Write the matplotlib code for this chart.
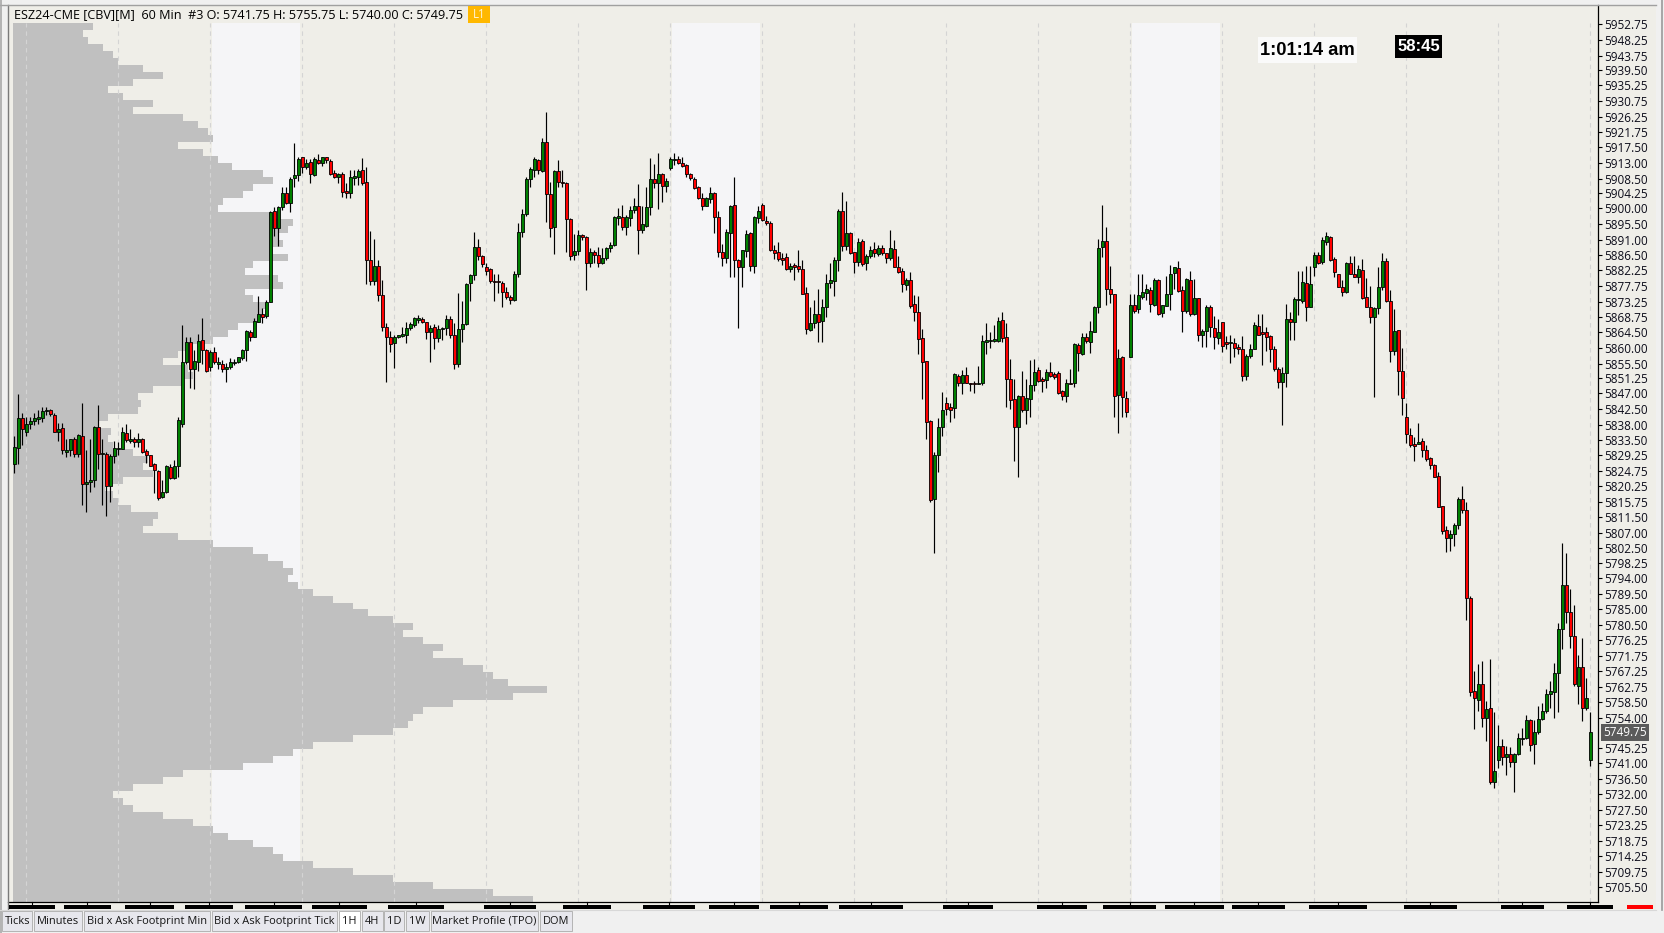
import numpy as np
import matplotlib
matplotlib.use("Agg")
import matplotlib.pyplot as plt
from matplotlib.patches import Rectangle
from matplotlib.lines import Line2D
import matplotlib.transforms as mtrans

# ------------------------------------------------------------------ data
header_text = "ESZ24-CME [CBV][M]  60 Min  #3 O: 5741.75 H: 5755.75 L: 5740.00 C: 5749.75"
clock_text = "1:01:14 am"
timer_text = "58:45"
last_price = 5749.75
tab_labels = ["Ticks", "Minutes", "Bid x Ask Footprint Min", "Bid x Ask Footprint Tick",
              "1H", "4H", "1D", "1W", "Market Profile (TPO)", "DOM"]
selected_tab = "1H"

price_ticks = [5952.75, 5948.25, 5943.75, 5939.50, 5935.25, 5930.75, 5926.25, 5921.75,
               5917.50, 5913.00, 5908.50, 5904.25, 5900.00, 5895.50, 5891.00, 5886.50,
               5882.25, 5877.75, 5873.25, 5868.75, 5864.50, 5860.00, 5855.50, 5851.25,
               5847.00, 5842.50, 5838.00, 5833.50, 5829.25, 5824.75, 5820.25, 5815.75,
               5811.50, 5807.00, 5802.50, 5798.25, 5794.00, 5789.50, 5785.00, 5780.50,
               5776.25, 5771.75, 5767.25, 5762.75, 5758.50, 5754.00, 5745.25, 5741.00,
               5736.50, 5732.00, 5727.50, 5723.25, 5718.75, 5714.25, 5709.75, 5705.50]

opens = [
 5826.6, 5831.4, 5840.0, 5836.0, 5838.1, 5839.1, 5839.5, 5839.8, 5841.8, 5842.2,
 5840.6, 5836.0, 5836.9, 5830.2, 5830.7, 5834.0, 5829.7, 5834.7, 5820.9, 5821.4,
 5822.1, 5837.2, 5829.5, 5829.7, 5820.4, 5829.0, 5830.9, 5831.1, 5835.5, 5833.4,
 5834.0, 5832.9, 5834.0, 5830.4, 5829.2, 5826.6, 5824.8, 5817.3, 5818.6, 5825.9,
 5822.7, 5826.2, 5838.3, 5855.8, 5861.6, 5853.8, 5856.0, 5862.1, 5859.5, 5854.6,
 5858.9, 5855.5, 5855.3, 5853.8, 5854.6, 5855.7, 5856.0, 5857.2, 5859.4, 5864.4,
 5863.2, 5867.5, 5869.6, 5869.2, 5873.2, 5899.2, 5894.4, 5900.5, 5904.5, 5901.6,
 5908.6, 5909.5, 5914.6, 5911.9, 5913.4, 5909.5, 5913.8, 5912.9, 5914.6, 5913.6,
 5910.2, 5908.9, 5909.8, 5905.0, 5904.5, 5908.8, 5908.9, 5911.0, 5907.4, 5885.2,
 5879.2, 5883.5, 5875.1, 5866.1, 5863.2, 5861.3, 5863.2, 5863.5, 5863.7, 5865.6,
 5866.5, 5868.1, 5868.3, 5867.3, 5864.4, 5865.9, 5862.7, 5865.3, 5865.6, 5868.2,
 5863.6, 5855.5, 5865.3, 5866.7, 5878.5, 5880.9, 5888.8, 5886.3, 5883.1, 5882.5,
 5879.1, 5879.0, 5878.7, 5875.9, 5874.5, 5873.7, 5881.2, 5893.1, 5898.3, 5908.5,
 5910.9, 5913.7, 5910.8, 5918.9, 5904.0, 5894.5, 5910.7, 5907.6, 5907.2, 5896.9,
 5886.6, 5887.8, 5892.1, 5891.9, 5884.4, 5887.4, 5886.6, 5884.4, 5885.6, 5888.5,
 5889.5, 5897.3, 5897.6, 5894.5, 5897.1, 5899.4, 5900.6, 5893.8, 5895.0, 5900.3,
 5908.3, 5907.2, 5909.7, 5906.5, 5911.6, 5913.7, 5914.0, 5912.9, 5912.4, 5909.8,
 5908.3, 5906.0, 5902.9, 5900.7, 5902.7, 5904.3, 5897.4, 5887.4, 5885.6, 5893.0,
 5900.9, 5885.3, 5883.1, 5887.8, 5893.0, 5883.5, 5897.1, 5900.9, 5896.4, 5895.9,
 5888.0, 5887.4, 5885.6, 5885.9, 5882.6, 5883.4, 5883.4, 5882.6, 5875.6, 5865.0,
 5867.0, 5869.7, 5867.7, 5871.6, 5878.7, 5879.2, 5885.2, 5899.2, 5889.3, 5893.0,
 5887.4, 5884.5, 5890.6, 5884.2, 5886.3, 5888.3, 5886.8, 5888.5, 5887.1, 5885.8,
 5888.3, 5883.3, 5882.0, 5877.9, 5879.4, 5872.5, 5870.2, 5862.7, 5856.2, 5839.0,
 5816.8, 5829.3, 5837.4, 5844.1, 5842.9, 5842.8, 5852.0, 5849.8, 5852.2, 5849.9,
 5849.9, 5849.5, 5849.8, 5861.8, 5861.9, 5861.9, 5861.9, 5868.0, 5863.0, 5851.0,
 5845.2, 5837.4, 5846.2, 5842.2, 5845.2, 5849.3, 5853.6, 5850.9, 5850.9, 5853.1,
 5852.5, 5852.7, 5847.7, 5846.2, 5849.9, 5849.8, 5860.8, 5858.1, 5863.0, 5861.7,
 5864.6, 5871.6, 5889.0, 5890.6, 5876.8, 5875.3, 5846.6, 5857.3, 5845.5, 5857.3,
 5872.4, 5871.0, 5874.7, 5875.6, 5876.6, 5872.3, 5879.4, 5869.9, 5872.1, 5875.3,
 5881.5, 5882.8, 5876.6, 5870.6, 5879.4, 5869.6, 5874.2, 5863.7, 5864.8, 5871.6,
 5865.6, 5862.7, 5867.3, 5861.6, 5861.3, 5861.3, 5860.1, 5859.6, 5851.9, 5857.7,
 5859.8, 5866.2, 5864.6, 5864.4, 5863.4, 5859.6, 5853.8, 5850.1, 5852.9, 5868.2,
 5867.5, 5873.6, 5873.5, 5878.5, 5871.8, 5883.2, 5886.6, 5884.7, 5890.4, 5891.9,
 5885.5, 5881.3, 5877.3, 5875.9, 5884.4, 5881.3, 5880.2, 5882.3, 5874.5, 5871.8,
 5868.7, 5871.3, 5877.3, 5884.8, 5873.3, 5859.0, 5865.0, 5853.4, 5840.1, 5835.1,
 5832.5, 5832.3, 5833.2, 5830.7, 5828.4, 5826.4, 5823.2, 5814.6, 5807.7, 5805.4,
 5806.7, 5809.1, 5816.6, 5813.4, 5788.2, 5761.6, 5759.1, 5763.5, 5753.8, 5756.8,
 5735.6, 5742.0, 5746.0, 5742.6, 5743.7, 5741.2, 5743.7, 5747.9, 5748.1, 5753.4,
 5746.5, 5750.0, 5753.6, 5755.8, 5760.9, 5761.4, 5766.7, 5779.4, 5792.1, 5784.2,
 5777.3, 5763.2, 5768.6, 5756.8, 5741.75]

highs = [
 5834.7, 5846.8, 5841.2, 5840.3, 5840.3, 5841.2, 5842.2, 5842.9, 5843.1, 5842.6,
 5841.2, 5838.5, 5838.5, 5834.0, 5834.0, 5834.5, 5835.2, 5844.3, 5830.7, 5834.0,
 5837.6, 5843.6, 5834.0, 5830.2, 5829.7, 5833.3, 5833.1, 5837.2, 5838.1, 5836.6,
 5834.5, 5835.7, 5834.2, 5830.9, 5829.3, 5826.9, 5825.0, 5822.1, 5826.3, 5826.7,
 5827.8, 5840.3, 5866.5, 5863.2, 5863.2, 5859.4, 5864.1, 5868.5, 5859.8, 5859.4,
 5860.3, 5857.4, 5856.5, 5855.7, 5857.0, 5856.7, 5857.5, 5859.8, 5865.1, 5865.1,
 5868.5, 5874.9, 5871.3, 5873.7, 5899.3, 5900.5, 5900.7, 5906.2, 5906.0, 5909.1,
 5918.6, 5914.8, 5914.8, 5914.0, 5914.0, 5914.6, 5915.6, 5914.8, 5914.8, 5914.0,
 5911.0, 5910.2, 5910.5, 5907.2, 5911.0, 5911.0, 5911.2, 5914.3, 5911.9, 5893.5,
 5891.1, 5885.2, 5879.4, 5867.2, 5864.9, 5863.7, 5863.7, 5866.1, 5867.5, 5867.5,
 5868.9, 5869.4, 5868.9, 5867.5, 5866.5, 5866.8, 5866.5, 5865.9, 5869.4, 5869.1,
 5867.0, 5875.6, 5873.4, 5878.7, 5881.3, 5893.1, 5891.1, 5886.6, 5884.2, 5882.8,
 5881.3, 5881.1, 5879.2, 5877.3, 5875.1, 5882.0, 5895.7, 5899.7, 5908.9, 5911.9,
 5914.8, 5914.0, 5920.0, 5927.5, 5907.6, 5911.0, 5913.8, 5911.0, 5907.6, 5897.1,
 5892.5, 5893.9, 5892.6, 5892.1, 5888.7, 5888.0, 5889.0, 5888.5, 5889.0, 5890.4,
 5897.8, 5900.0, 5900.9, 5898.1, 5900.6, 5902.8, 5906.9, 5900.6, 5906.2, 5914.3,
 5912.7, 5915.9, 5910.0, 5908.6, 5914.6, 5915.8, 5915.0, 5914.8, 5912.7, 5910.0,
 5908.9, 5906.4, 5904.5, 5903.1, 5906.0, 5904.8, 5899.2, 5889.8, 5894.0, 5900.9,
 5908.9, 5885.4, 5888.1, 5893.8, 5893.3, 5897.8, 5900.6, 5901.4, 5897.8, 5896.4,
 5889.5, 5890.4, 5887.1, 5887.1, 5884.2, 5884.2, 5888.0, 5885.2, 5877.5, 5871.8,
 5873.7, 5877.0, 5873.9, 5881.3, 5884.2, 5885.9, 5899.7, 5904.8, 5902.1, 5893.3,
 5887.6, 5891.4, 5891.2, 5886.9, 5889.2, 5890.4, 5889.5, 5889.5, 5887.1, 5893.9,
 5890.9, 5886.3, 5882.8, 5879.9, 5881.8, 5875.1, 5874.9, 5865.3, 5856.2, 5839.3,
 5830.0, 5839.8, 5847.2, 5846.0, 5844.3, 5852.9, 5852.5, 5853.6, 5854.6, 5850.0,
 5850.6, 5854.8, 5863.7, 5867.0, 5864.6, 5866.5, 5868.9, 5870.2, 5867.2, 5856.8,
 5851.2, 5846.5, 5853.4, 5851.0, 5856.5, 5856.9, 5854.6, 5851.7, 5853.8, 5856.0,
 5853.1, 5853.4, 5847.9, 5851.2, 5853.9, 5861.5, 5861.3, 5864.3, 5864.3, 5867.7,
 5872.0, 5891.1, 5900.9, 5894.7, 5883.4, 5875.3, 5859.8, 5857.6, 5847.6, 5875.3,
 5875.4, 5881.3, 5881.3, 5878.2, 5877.5, 5879.9, 5879.6, 5872.4, 5880.6, 5883.7,
 5883.3, 5884.9, 5877.7, 5879.9, 5882.0, 5879.6, 5874.2, 5865.3, 5872.3, 5872.3,
 5869.1, 5868.4, 5867.3, 5863.5, 5863.7, 5862.7, 5861.1, 5863.5, 5858.1, 5861.1,
 5867.5, 5869.7, 5869.7, 5865.9, 5863.7, 5860.5, 5854.6, 5854.6, 5872.5, 5870.3,
 5874.7, 5882.0, 5882.0, 5883.4, 5883.4, 5887.6, 5887.6, 5891.9, 5893.3, 5892.0,
 5885.9, 5881.3, 5879.4, 5884.7, 5886.3, 5886.3, 5883.7, 5885.4, 5879.9, 5877.7,
 5871.8, 5883.3, 5887.3, 5885.8, 5876.7, 5871.2, 5865.0, 5860.0, 5844.1, 5837.0,
 5834.3, 5838.5, 5834.1, 5832.1, 5828.8, 5826.8, 5824.3, 5814.6, 5808.8, 5807.7,
 5809.9, 5817.3, 5820.5, 5815.8, 5788.9, 5767.4, 5769.4, 5770.2, 5758.7, 5770.7,
 5755.6, 5751.9, 5747.9, 5745.8, 5745.7, 5743.9, 5749.7, 5751.1, 5754.7, 5753.6,
 5753.4, 5757.2, 5758.2, 5762.1, 5764.6, 5769.6, 5781.2, 5804.0, 5801.2, 5790.8,
 5786.3, 5772.0, 5776.8, 5765.3, 5755.75]

lows = [
 5824.0, 5826.6, 5832.1, 5834.7, 5836.6, 5837.9, 5838.3, 5838.8, 5840.7, 5840.4,
 5835.9, 5833.4, 5829.5, 5828.6, 5829.0, 5828.8, 5828.6, 5814.9, 5813.0, 5818.7,
 5820.2, 5825.2, 5814.9, 5811.9, 5815.9, 5827.1, 5829.3, 5831.1, 5833.1, 5832.6,
 5831.6, 5831.6, 5829.9, 5826.9, 5826.1, 5818.3, 5816.4, 5816.9, 5818.3, 5822.3,
 5822.3, 5823.1, 5837.4, 5855.5, 5848.4, 5848.1, 5853.4, 5855.5, 5853.1, 5853.4,
 5855.5, 5853.8, 5853.1, 5850.3, 5853.8, 5855.0, 5855.7, 5856.5, 5856.3, 5862.0,
 5863.2, 5867.5, 5867.2, 5868.5, 5873.2, 5892.0, 5889.2, 5899.5, 5901.2, 5899.0,
 5906.0, 5907.9, 5910.2, 5911.2, 5907.2, 5909.3, 5912.7, 5912.1, 5913.1, 5909.5,
 5908.6, 5907.3, 5903.1, 5902.9, 5902.9, 5906.7, 5906.7, 5906.7, 5878.3, 5878.0,
 5878.0, 5873.5, 5864.8, 5850.3, 5858.9, 5854.1, 5862.7, 5863.2, 5861.3, 5865.1,
 5866.1, 5867.2, 5867.0, 5862.4, 5856.0, 5859.8, 5861.8, 5862.2, 5863.7, 5862.7,
 5853.8, 5854.6, 5861.8, 5866.5, 5873.5, 5879.4, 5885.3, 5883.3, 5880.9, 5878.7,
 5873.5, 5875.6, 5871.8, 5874.0, 5872.6, 5873.5, 5880.2, 5891.7, 5897.9, 5906.0,
 5909.1, 5909.8, 5910.5, 5896.0, 5891.7, 5886.9, 5906.2, 5906.0, 5887.6, 5885.2,
 5885.2, 5886.6, 5890.9, 5876.6, 5883.3, 5884.2, 5883.3, 5884.0, 5885.2, 5887.5,
 5889.2, 5895.2, 5893.8, 5892.3, 5894.9, 5898.6, 5886.9, 5892.8, 5894.7, 5898.1,
 5905.7, 5899.7, 5901.9, 5904.8, 5910.9, 5912.4, 5912.7, 5911.9, 5909.1, 5908.1,
 5905.4, 5902.6, 5899.5, 5900.6, 5901.4, 5892.8, 5886.1, 5883.5, 5884.2, 5880.4,
 5880.4, 5865.6, 5877.5, 5886.1, 5882.1, 5881.5, 5895.7, 5896.4, 5895.2, 5887.8,
 5885.4, 5885.0, 5883.7, 5882.3, 5881.8, 5879.4, 5881.6, 5875.4, 5864.0, 5864.8,
 5865.6, 5861.8, 5861.8, 5868.9, 5877.1, 5874.8, 5882.1, 5887.8, 5888.0, 5886.9,
 5881.5, 5883.5, 5883.5, 5882.3, 5885.6, 5885.9, 5886.4, 5886.6, 5884.4, 5885.2,
 5883.1, 5881.4, 5875.9, 5876.6, 5871.3, 5867.8, 5858.2, 5845.3, 5834.0, 5815.9,
 5801.3, 5824.5, 5834.8, 5840.7, 5838.8, 5839.8, 5849.0, 5846.7, 5849.8, 5847.7,
 5847.1, 5849.5, 5849.3, 5858.2, 5859.9, 5861.7, 5861.7, 5861.6, 5842.9, 5842.5,
 5827.6, 5822.9, 5841.7, 5838.3, 5840.3, 5847.7, 5850.3, 5847.4, 5848.4, 5851.7,
 5851.2, 5846.9, 5845.0, 5844.5, 5849.6, 5848.8, 5853.4, 5857.9, 5861.3, 5858.4,
 5864.4, 5869.9, 5886.1, 5872.3, 5872.9, 5840.2, 5835.5, 5840.2, 5840.2, 5857.3,
 5870.1, 5870.1, 5874.0, 5873.7, 5870.3, 5872.0, 5869.4, 5868.9, 5872.0, 5870.8,
 5877.0, 5876.1, 5864.6, 5869.9, 5869.1, 5869.4, 5862.0, 5860.3, 5860.3, 5863.2,
 5859.8, 5861.1, 5858.9, 5859.6, 5855.7, 5857.3, 5858.1, 5850.6, 5850.9, 5857.0,
 5859.8, 5863.6, 5855.2, 5859.2, 5856.0, 5853.4, 5848.4, 5838.0, 5848.7, 5862.2,
 5862.2, 5869.4, 5872.9, 5867.7, 5871.6, 5880.6, 5884.0, 5884.0, 5889.5, 5885.0,
 5880.4, 5877.3, 5874.8, 5875.6, 5881.1, 5880.2, 5878.5, 5874.0, 5871.6, 5867.0,
 5846.0, 5869.6, 5876.5, 5873.1, 5855.8, 5857.9, 5846.6, 5840.6, 5832.8, 5831.7,
 5827.5, 5832.3, 5828.8, 5827.5, 5825.4, 5822.9, 5814.4, 5806.7, 5801.4, 5801.9,
 5803.1, 5808.1, 5812.6, 5782.1, 5760.3, 5750.8, 5755.8, 5751.3, 5747.4, 5734.9,
 5733.8, 5739.5, 5740.5, 5737.5, 5739.9, 5732.8, 5743.4, 5746.2, 5747.9, 5744.4,
 5740.7, 5749.2, 5753.2, 5755.4, 5756.8, 5754.0, 5755.6, 5773.8, 5781.2, 5773.9,
 5763.2, 5757.9, 5752.9, 5756.1, 5740.00]

closes = [
 5831.6, 5840.0, 5836.6, 5838.2, 5839.0, 5839.8, 5840.1, 5841.8, 5842.2, 5840.9,
 5836.0, 5836.6, 5830.7, 5830.7, 5834.0, 5829.7, 5835.0, 5820.9, 5821.4, 5822.1,
 5837.2, 5829.5, 5829.7, 5820.4, 5829.0, 5831.2, 5831.4, 5835.8, 5833.6, 5833.9,
 5832.9, 5834.0, 5830.2, 5829.2, 5826.2, 5825.0, 5817.0, 5818.6, 5826.2, 5822.7,
 5826.0, 5839.3, 5855.8, 5861.6, 5853.8, 5856.2, 5862.0, 5859.5, 5853.4, 5858.9,
 5855.8, 5855.8, 5853.8, 5854.6, 5855.8, 5855.9, 5857.3, 5859.4, 5864.8, 5863.2,
 5867.7, 5869.6, 5868.9, 5873.2, 5898.8, 5894.4, 5900.5, 5904.5, 5901.6, 5908.3,
 5909.5, 5914.0, 5911.7, 5912.9, 5909.7, 5914.0, 5912.9, 5914.6, 5913.7, 5909.7,
 5908.9, 5909.8, 5904.8, 5904.3, 5908.9, 5909.0, 5910.7, 5907.3, 5885.2, 5879.2,
 5883.5, 5875.0, 5866.1, 5863.2, 5861.0, 5863.2, 5863.5, 5864.0, 5865.6, 5866.8,
 5868.5, 5868.3, 5867.3, 5864.4, 5865.6, 5862.7, 5865.3, 5865.6, 5868.2, 5863.6,
 5855.5, 5865.3, 5866.7, 5878.3, 5880.9, 5888.8, 5886.3, 5883.9, 5882.1, 5879.2,
 5878.9, 5878.8, 5875.9, 5874.5, 5873.7, 5881.2, 5893.1, 5898.3, 5908.3, 5911.2,
 5914.0, 5910.9, 5918.9, 5904.0, 5894.2, 5910.7, 5907.4, 5907.2, 5896.8, 5886.4,
 5887.8, 5892.3, 5891.9, 5884.4, 5887.4, 5886.6, 5884.4, 5885.6, 5888.5, 5889.5,
 5897.4, 5897.6, 5894.7, 5897.6, 5899.5, 5900.6, 5893.8, 5895.5, 5900.3, 5908.3,
 5907.2, 5909.7, 5906.5, 5907.8, 5914.0, 5914.0, 5912.9, 5912.2, 5909.8, 5908.6,
 5905.9, 5902.9, 5900.7, 5902.9, 5904.3, 5897.4, 5887.4, 5885.6, 5893.1, 5900.6,
 5885.3, 5883.1, 5887.9, 5892.6, 5883.5, 5897.4, 5899.2, 5896.6, 5895.7, 5888.0,
 5887.3, 5885.4, 5885.3, 5882.6, 5883.4, 5883.3, 5882.6, 5875.4, 5865.4, 5867.0,
 5869.7, 5867.5, 5871.8, 5878.5, 5879.4, 5885.2, 5899.2, 5889.3, 5893.0, 5887.1,
 5884.5, 5890.4, 5884.0, 5886.3, 5888.0, 5887.1, 5888.5, 5887.1, 5885.7, 5888.5,
 5883.3, 5881.8, 5878.2, 5879.4, 5872.1, 5870.4, 5862.4, 5856.0, 5838.6, 5816.4,
 5829.3, 5837.4, 5842.2, 5842.6, 5842.3, 5852.4, 5850.0, 5852.2, 5849.8, 5849.7,
 5849.7, 5850.0, 5861.9, 5862.2, 5862.2, 5862.4, 5867.7, 5862.9, 5851.0, 5845.0,
 5837.4, 5846.2, 5842.2, 5845.5, 5849.3, 5853.1, 5850.6, 5850.6, 5853.1, 5851.9,
 5851.7, 5847.1, 5846.2, 5849.8, 5849.6, 5861.1, 5858.4, 5863.0, 5861.9, 5864.9,
 5871.6, 5888.5, 5890.6, 5876.8, 5875.3, 5846.3, 5857.0, 5845.8, 5841.7, 5872.4,
 5870.6, 5875.0, 5875.9, 5876.8, 5872.7, 5879.4, 5869.6, 5872.3, 5875.3, 5881.3,
 5883.1, 5876.4, 5870.6, 5879.6, 5869.6, 5874.2, 5863.7, 5864.8, 5871.6, 5865.9,
 5863.0, 5864.4, 5860.6, 5861.1, 5861.7, 5860.0, 5859.6, 5851.9, 5857.7, 5859.6,
 5866.5, 5863.8, 5864.1, 5863.2, 5859.6, 5853.8, 5850.3, 5852.9, 5868.2, 5867.5,
 5873.9, 5873.9, 5878.8, 5871.8, 5878.2, 5886.6, 5884.4, 5890.9, 5892.0, 5885.2,
 5881.6, 5877.3, 5876.1, 5884.4, 5881.3, 5880.4, 5882.5, 5874.2, 5871.8, 5868.7,
 5871.3, 5877.3, 5884.8, 5873.3, 5859.0, 5864.8, 5853.4, 5845.5, 5835.3, 5832.1,
 5831.9, 5833.0, 5830.7, 5828.2, 5826.3, 5823.1, 5814.4, 5807.5, 5805.4, 5806.5,
 5809.1, 5816.6, 5813.4, 5788.4, 5761.4, 5759.5, 5763.5, 5754.0, 5756.6, 5735.6,
 5738.6, 5746.0, 5742.6, 5743.7, 5741.2, 5743.7, 5748.1, 5748.3, 5753.4, 5746.3,
 5750.0, 5753.6, 5755.8, 5760.9, 5761.6, 5766.7, 5779.4, 5792.1, 5784.2, 5777.3,
 5763.5, 5768.6, 5756.8, 5759.6, 5749.75]

# volume profile, 2-point price bins from the top bin downward
profile_top_price = 5952
profile_bin = 2
profile_volume = [
 80, 70, 75, 90, 100, 105, 130, 150, 120, 95,
 110, 140, 120, 170, 185, 195, 200, 165, 190, 205,
 219, 250, 260, 240, 230, 210, 205, 260, 280, 275,
 265, 270, 260, 275, 240, 232, 265, 270, 232, 240,
 255, 250, 245, 225, 215, 200, 175, 165, 150, 175,
 180, 170, 140, 125, 128, 125, 95, 85, 98, 95,
 100, 120, 135, 130, 140, 110, 92, 100, 105, 118,
 145, 140, 130, 165, 200, 240, 255, 270, 280, 275,
 285, 300, 320, 340, 355, 380, 400, 390, 410, 430,
 420, 450, 470, 480, 495, 534, 500, 440, 410, 400,
 395, 380, 340, 300, 280, 260, 230, 170, 150, 120,
 100, 110, 120, 150, 180, 200, 215, 240, 260, 270,
 300, 340, 380, 420, 480, 520]

# session layout (candle indices)
session_len = 23
first_session_line = 3
highlight_sessions = [(50, 71), (165, 186), (280, 301)]
# time-axis labels (drawn as solid bars): centre and width in candle units
time_label_idx = [4.55, 18.3, 33.85, 48.7, 64.85, 81.2, 100.4, 123.9, 143.2, 163.7,
                  179.9, 196.2, 214.2, 238.4, 261.9, 278.9, 295.05, 311.05, 330.9,
                  354.05, 377.05, 393.9]
time_label_w = [11.5, 11.8, 12.2, 12.2, 14.2, 13.7, 13.9, 13.0, 12.0, 13.2,
                12.5, 14.5, 16.0, 12.5, 12.5, 13.2, 14.7, 13.2, 14.4, 13.2,
                10.8, 11.5]
now_marker_idx = 406.4
now_marker_w = 6.6

# ------------------------------------------------------------------ style
W, H = 1665, 933
BG = "#efeee8"
BAND = "#f5f5f7"
PROFILE = "#c0c0c0"
UP = "#008000"
DOWN = "#ff0000"
FONT = ["Open Sans", "DejaVu Sans"]

fig = plt.figure(figsize=(W / 100, H / 100), dpi=100)
fig.patch.set_facecolor("#f0f0f0")


def fx(px):
    return px / W


def fy(py):
    return 1 - py / H


def frect(x0, y0, x1, y1, z=1, **kw):
    r = Rectangle((fx(x0), fy(y1)), fx(x1) - fx(x0), fy(y0) - fy(y1),
                  transform=fig.transFigure, zorder=z, **kw)
    fig.patches.append(r)
    return r


def fline(x0, y0, x1, y1, z=2, **kw):
    ln = Line2D([fx(x0), fx(x1)], [fy(y0), fy(y1)], transform=fig.transFigure,
                zorder=z, **kw)
    fig.lines.append(ln)
    return ln


renderer = fig.canvas.get_renderer()


def fit_width(t, target_px):
    w = t.get_window_extent(renderer).width
    t.set_fontsize(t.get_fontsize() * target_px / w)


# chart background (chart + price axis + time axis)
frect(8.5, 5, 1656, 909.5, z=-2, facecolor=BG, edgecolor="none")

# main axes
x_left_px, x_right_px = 8.5, 1598
y_top_px, y_bot_px = 23, 901.5
ax = fig.add_axes([fx(x_left_px), fy(y_bot_px), fx(x_right_px) - fx(x_left_px),
                   fy(y_top_px) - fy(y_bot_px)])
ax.set_facecolor(BG)
n = len(closes)
px_per_bar = 4.0
first_bar_px = 14.3
ax.set_xlim((x_left_px - first_bar_px) / px_per_bar, (x_right_px - first_bar_px) / px_per_bar)
ax.set_ylim(5701.3, 5953.1)
for s in ax.spines.values():
    s.set_visible(False)

# highlighted sessions
for a, b in highlight_sessions:
    ax.axvspan(a - 0.5, b + 0.5, color=BAND, zorder=0.5, lw=0)

# volume profile
vol = np.array(profile_volume, dtype=float)
levels = profile_top_price - profile_bin * np.arange(len(vol))
max_len_bars = 534 / px_per_bar
ax.barh(levels, vol / vol.max() * max_len_bars, height=profile_bin, left=-0.3,
        color=PROFILE, linewidth=0, zorder=1)

# session separators
for i in range(first_session_line, n, session_len):
    ax.axvline(i, color="#d4d4d4", lw=0.8, ls=(0, (4, 3.5)), zorder=2)

# candles
o = np.array(opens); h = np.array(highs); l = np.array(lows); c = np.array(closes)
x = np.arange(n)
up = c >= o
ax.vlines(x, l, h, colors="black", linewidth=0.85, zorder=3)
body_lo = np.minimum(o, c)
body_h = np.maximum(np.abs(c - o), 0.35)
ax.bar(x, body_h, bottom=body_lo, width=0.62, color=np.where(up, UP, DOWN),
       edgecolor="black", linewidth=0.6, zorder=4)

# price axis
ax.yaxis.tick_right()
ax.set_yticks(price_ticks)
ax.set_yticklabels([f"{v:.2f}" for v in price_ticks])
ax.tick_params(axis="y", which="both", right=True, left=False, length=3.2, width=0.8,
               color="black", pad=1.2, labelsize=8.5, labelcolor="#0c0c1a")
for t in ax.get_yticklabels():
    t.set_family(FONT)
ax.set_xticks([])

# frame lines
fline(x_right_px, 5, x_right_px, 901.5, color="black", lw=0.9)
fline(8.5, 901.5, x_right_px, 901.5, color="black", lw=0.9)
fline(8, 4.5, 8, 909, color="#7a7a7a", lw=1.0)
fline(0, 4.5, 1656, 4.5, color="#a0a0a0", lw=1.0)
fline(1.2, 0, 1.2, 933, color="#a8a8a8", lw=1.2)

# last price box
trans = mtrans.blended_transform_factory(fig.transFigure, ax.transData)
fig.text(fx(1603.5), last_price, f"{last_price:.2f}", transform=trans, ha="left",
         va="center", color="white", fontsize=8.5, family=FONT, zorder=6,
         bbox=dict(boxstyle="square,pad=0.18", fc="#5b5b5b", ec="none"))

# header
ht = fig.text(fx(14), fy(14.5), header_text, ha="left", va="center", fontsize=9,
              family=FONT, color="black", zorder=6)
fit_width(ht, 449)
frect(468, 5.5, 490, 23, z=5, facecolor="#ffb800", edgecolor="none")
fig.text(fx(479), fy(14.3), "L1", ha="center", va="center", fontsize=8.3,
         family=FONT, color="#fff4d6", zorder=6)

# clock & bar timer
frect(1258, 37, 1357, 63, z=5, facecolor="#fafafa", edgecolor="none")
ct = fig.text(fx(1307.5), fy(50.5), clock_text, ha="center", va="center", fontsize=12,
              family=["Liberation Sans", "DejaVu Sans"], weight="bold", color="black", zorder=6)
fit_width(ct, 95)
frect(1395, 35, 1442, 58, z=5, facecolor="black", edgecolor="none")
tt = fig.text(fx(1418.5), fy(46.8), timer_text, ha="center", va="center", fontsize=11,
              family=["Liberation Sans", "DejaVu Sans"], weight="bold", color="white", zorder=6)
fit_width(tt, 43)

# time axis (labels rendered as solid bars) + ticks
tx = mtrans.blended_transform_factory(ax.transData, fig.transFigure)
for ci, wi in zip(time_label_idx, time_label_w):
    fig.patches.append(Rectangle((ci - wi / 2, fy(909)), wi, fy(905.2) - fy(909),
                                 transform=tx, facecolor="black", edgecolor="none", zorder=3))
    fig.lines.append(Line2D([ci, ci], [fy(901.5), fy(905.2)], transform=tx, color="black",
                            lw=0.8, zorder=3))
fig.patches.append(Rectangle((now_marker_idx - now_marker_w / 2, fy(909)), now_marker_w,
                             fy(905.2) - fy(909), transform=tx, facecolor="#ff0000",
                             edgecolor="none", zorder=3))

# right scrollbar strip
frect(1656, 0, 1665, 933, z=-1, facecolor="#f0f0f0", edgecolor="none")
fline(1662.3, 0, 1662.3, 910, color="#9a9a9a", lw=1.2)

# tab bar
frect(0, 909.5, 1656, 933, z=-1, facecolor="#f0f0f0", edgecolor="none")
fline(0, 909.8, 1656, 909.8, color="#d8d8d8", lw=0.8)
tab_edges = [(2, 32.5), (33.7, 82.3), (84.2, 209.7), (211.6, 336.8), (338.7, 359.7),
             (361.7, 382.7), (383.8, 403.7), (405.7, 428.6), (430.5, 537.7), (539.6, 572.1)]
tab_texts = []
for (a, b), lab in zip(tab_edges, tab_labels):
    sel = lab == selected_tab
    frect(a, 911, b, 931, z=2, facecolor="#ffffff" if sel else "#e7e7ed",
          edgecolor="#b4b4b4", linewidth=0.7)
    tab_texts.append(fig.text(fx((a + b) / 2), fy(921.2), lab, ha="center", va="center",
                              fontsize=8, family=FONT, color="#141414", zorder=4))
fit_width(tab_texts[2], 119)
for t in tab_texts:
    t.set_fontsize(tab_texts[2].get_fontsize())

fig.savefig("out.png", dpi=100, facecolor=fig.get_facecolor())
